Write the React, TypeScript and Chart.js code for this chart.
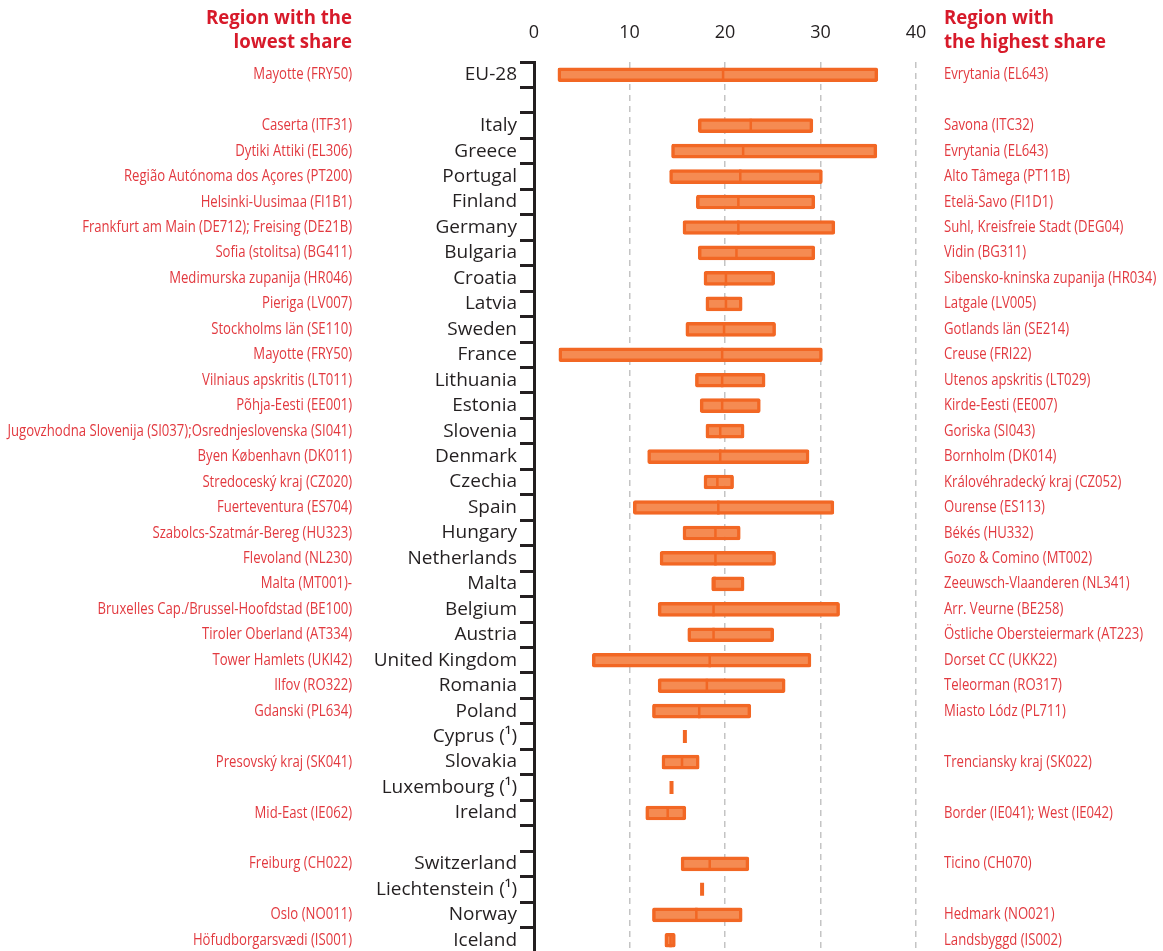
import React, { useEffect, useRef } from "react";
import { Chart, registerables } from "chart.js";

Chart.register(...registerables);

const categories: string[] = [
  "EU-28", "", "Italy", "Greece", "Portugal", "Finland", "Germany", "Bulgaria",
  "Croatia", "Latvia", "Sweden", "France", "Lithuania", "Estonia", "Slovenia",
  "Denmark", "Czechia", "Spain", "Hungary", "Netherlands", "Malta", "Belgium",
  "Austria", "United Kingdom", "Romania", "Poland", "Cyprus (¹)", "Slovakia",
  "Luxembourg (¹)", "Ireland", "", "Switzerland", "Liechtenstein (¹)", "Norway", "Iceland",
];

const minValues: (number | null)[] = [
  2.5, null, 17.2, 14.4, 14.2, 17.0, 15.6, 17.2,
  17.8, 18.0, 15.9, 2.6, 16.9, 17.4, 18.0,
  11.9, 17.8, 10.4, 15.6, 13.2, 18.6, 13.0,
  16.1, 6.1, 13.0, 12.4, null, 13.4,
  null, 11.7, null, 15.4, null, 12.4, 13.7,
];

const maxValues: (number | null)[] = [
  36.0, null, 29.2, 35.9, 30.2, 29.4, 31.5, 29.4,
  25.2, 21.8, 25.3, 30.2, 24.2, 23.7, 22.0,
  28.8, 20.9, 31.4, 21.6, 25.3, 22.0, 32.0,
  25.1, 29.0, 26.3, 22.7, null, 17.3,
  null, 15.9, null, 22.5, null, 21.8, 14.8,
];

const meanValues: (number | null)[] = [
  19.8, null, 22.7, 21.9, 21.6, 21.4, 21.4, 21.2,
  20.1, 20.1, 19.9, 19.7, 19.7, 19.7, 19.5,
  19.5, 19.2, 19.3, 19.0, 19.0, 18.9, 18.8,
  18.8, 18.4, 18.1, 17.3, null, 15.5,
  null, 14.0, null, 18.4, null, 17.0, 14.3,
];

const singleValues: (number | null)[] = [
  null, null, null, null, null, null, null, null,
  null, null, null, null, null, null, null,
  null, null, null, null, null, null, null,
  null, null, null, null, 15.8, null,
  14.4, null, null, null, 17.6, null, null,
];

const lowestRegions: string[] = [
  "Mayotte (FRY50)", "", "Caserta (ITF31)", "Dytiki Attiki (EL306)",
  "Região Autónoma dos Açores (PT200)", "Helsinki-Uusimaa (FI1B1)",
  "Frankfurt am Main (DE712); Freising (DE21B)", "Sofia (stolitsa) (BG411)",
  "Medimurska zupanija (HR046)", "Pieriga (LV007)", "Stockholms län (SE110)",
  "Mayotte (FRY50)", "Vilniaus apskritis (LT011)", "Põhja-Eesti (EE001)",
  "Jugovzhodna Slovenija (SI037);Osrednjeslovenska (SI041)", "Byen København (DK011)",
  "Stredoceský kraj (CZ020)", "Fuerteventura (ES704)", "Szabolcs-Szatmár-Bereg (HU323)",
  "Flevoland (NL230)", "Malta (MT001)-", "Bruxelles Cap./Brussel-Hoofdstad (BE100)",
  "Tiroler Oberland (AT334)", "Tower Hamlets (UKI42)", "Ilfov (RO322)", "Gdanski (PL634)",
  "", "Presovský kraj (SK041)", "", "Mid-East (IE062)", "", "Freiburg (CH022)", "",
  "Oslo (NO011)", "Höfudborgarsvædi (IS001)",
];

const highestRegions: string[] = [
  "Evrytania (EL643)", "", "Savona (ITC32)", "Evrytania (EL643)", "Alto Tâmega (PT11B)",
  "Etelä-Savo (FI1D1)", "Suhl, Kreisfreie Stadt (DEG04)", "Vidin (BG311)",
  "Sibensko-kninska zupanija (HR034)", "Latgale (LV005)", "Gotlands län (SE214)",
  "Creuse (FRI22)", "Utenos apskritis (LT029)", "Kirde-Eesti (EE007)", "Goriska (SI043)",
  "Bornholm (DK014)", "Královéhradecký kraj (CZ052)", "Ourense (ES113)", "Békés (HU332)",
  "Gozo & Comino (MT002)", "Zeeuwsch-Vlaanderen (NL341)", "Arr. Veurne (BE258)",
  "Östliche Obersteiermark (AT223)", "Dorset CC (UKK22)", "Teleorman (RO317)",
  "Miasto Lódz (PL711)", "", "Trenciansky kraj (SK022)", "", "Border (IE041); West (IE042)",
  "", "Ticino (CH070)", "", "Hedmark (NO021)", "Landsbyggd (IS002)",
];

const xTicks: number[] = [0, 10, 20, 30, 40];

const leftHeader: string[] = ["Region with the", "lowest share"];
const rightHeader: string[] = ["Region with", "the highest share"];

const ORANGE = "#F26724";
const ORANGE_FILL = "#F58B52";
const RED = "#E2393F";
const HEAD_RED = "#D71A2A";
const INK = "#231F20";

function drawCondensed(
  ctx: CanvasRenderingContext2D,
  text: string,
  x: number,
  y: number,
  align: CanvasTextAlign,
  sx: number
) {
  if (!text) return;
  ctx.save();
  ctx.translate(x, y);
  ctx.scale(sx, 1);
  ctx.textAlign = align;
  ctx.fillText(text, 0, 0);
  ctx.restore();
}

const regionLabels = {
  id: "regionLabels",
  afterDraw(chart: any) {
    const { ctx, chartArea } = chart;
    const yScale = chart.scales.y;
    const leftX = chartArea.left - 182;
    const rightX = chartArea.right + 28;
    ctx.save();
    ctx.textBaseline = "middle";
    ctx.font = '16px "Open Sans"';
    ctx.fillStyle = RED;
    categories.forEach((_, i) => {
      const py = yScale.getPixelForValue(i);
      drawCondensed(ctx, lowestRegions[i], leftX, py, "right", 0.82);
      drawCondensed(ctx, highestRegions[i], rightX, py, "left", 0.82);
    });
    ctx.font = 'bold 20px "Open Sans"';
    ctx.fillStyle = HEAD_RED;
    leftHeader.forEach((t, i) => drawCondensed(ctx, t, leftX, 18 + i * 24, "right", 0.93));
    rightHeader.forEach((t, i) => drawCondensed(ctx, t, rightX, 18 + i * 24, "left", 0.93));
    ctx.restore();
  },
};

export default function App() {
  const canvasRef = useRef<HTMLCanvasElement | null>(null);

  useEffect(() => {
    const canvas = canvasRef.current;
    if (!canvas) return;
    const barData = categories.map((_, i) =>
      minValues[i] != null && maxValues[i] != null ? [minValues[i], maxValues[i]] : null
    );
    const chart = new Chart(canvas, {
      type: "bar",
      data: {
        labels: categories,
        datasets: [
          {
            type: "line",
            indexAxis: "y",
            data: meanValues,
            showLine: false,
            pointStyle: "line",
            rotation: 90,
            pointRadius: 7,
            pointBorderWidth: 2.5,
            borderColor: ORANGE,
            backgroundColor: ORANGE,
            order: 0,
          } as any,
          {
            type: "line",
            indexAxis: "y",
            data: singleValues,
            showLine: false,
            pointStyle: "line",
            rotation: 90,
            pointRadius: 6.5,
            pointBorderWidth: 4,
            borderColor: ORANGE,
            backgroundColor: ORANGE,
            order: 0,
          } as any,
          {
            type: "bar",
            indexAxis: "y",
            data: barData as any,
            backgroundColor: ORANGE_FILL,
            borderColor: ORANGE,
            borderWidth: 3.5,
            borderRadius: 2,
            borderSkipped: false,
            barThickness: 14,
            order: 1,
          } as any,
        ],
      },
      options: {
        indexAxis: "y",
        responsive: false,
        animation: false,
        events: [],
        layout: { autoPadding: false, padding: { left: 0, right: 247, top: 0, bottom: 1 } },
        plugins: { legend: { display: false }, tooltip: { enabled: false } },
        scales: {
          x: {
            type: "linear",
            position: "top",
            min: 0,
            max: 40,
            afterFit: (s: any) => {
              s.height = 62;
            },
            afterBuildTicks: (s: any) => {
              s.ticks = xTicks.map((v) => ({ value: v }));
            },
            ticks: {
              padding: 18,
              color: INK,
              font: { family: '"Open Sans"', size: 18 },
            },
            border: { display: false, dash: [6, 5] },
            grid: {
              drawTicks: false,
              lineWidth: 1.5,
              color: (c: any) => (c.tick && c.tick.value === 0 ? "rgba(0,0,0,0)" : "#C4C4C4"),
            },
          },
          y: {
            type: "category",
            position: "left",
            afterFit: (s: any) => {
              s.width = 534;
              s.paddingTop = 0;
              s.paddingBottom = 0;
            },
            ticks: {
              autoSkip: false,
              padding: 3,
              color: INK,
              font: { family: '"Open Sans"', size: 19 },
            },
            border: { display: true, color: INK, width: 3 },
            grid: {
              offset: true,
              drawOnChartArea: false,
              drawTicks: true,
              tickLength: 14,
              lineWidth: 3,
              color: INK,
            },
          },
        },
      },
      plugins: [regionLabels],
    } as any);
    return () => chart.destroy();
  }, []);

  return (
    <div
      style={{
        position: "fixed",
        left: 0,
        top: 0,
        width: 1163,
        height: 951,
        overflow: "hidden",
        background: "#fff",
      }}
    >
      <canvas ref={canvasRef} width={1163} height={954} style={{ display: "block" }} />
    </div>
  );
}
